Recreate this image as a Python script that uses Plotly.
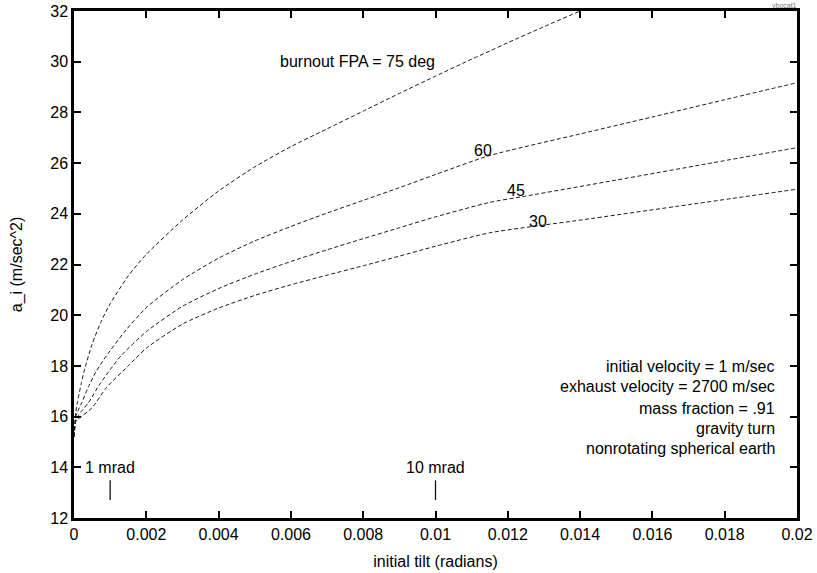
import plotly.graph_objects as go

# ---- data ----
x75 = [0, 0.00005, 0.0001, 0.0002, 0.0003, 0.0005, 0.00075, 0.001, 0.0015, 0.002,
       0.003, 0.004, 0.005, 0.006, 0.007, 0.008, 0.009, 0.010, 0.011, 0.0115,
       0.012, 0.013, 0.014, 0.015]
y75 = [15.2, 16.2, 16.6, 17.3, 17.9, 18.85, 19.75, 20.45, 21.55, 22.4,
       23.75, 24.9, 25.85, 26.65, 27.35, 28.05, 28.75, 29.43, 30.1, 30.42,
       30.75, 31.38, 32.0, 32.6]

x60 = [0, 0.00005, 0.0001, 0.0002, 0.0004, 0.0006, 0.0008, 0.001, 0.0014, 0.002,
       0.003, 0.004, 0.005, 0.006, 0.007, 0.008, 0.009, 0.010, 0.0115,
       0.014, 0.016, 0.018, 0.020]
y60 = [15.2, 16.0, 16.2, 16.5, 17.18, 17.75, 18.2, 18.6, 19.35, 20.3,
       21.4, 22.25, 22.93, 23.5, 24.03, 24.53, 25.03, 25.55, 26.3,
       27.15, 27.82, 28.5, 29.17]

x45 = [0, 0.00005, 0.0001, 0.0002, 0.0004, 0.0007, 0.001, 0.0013, 0.002,
       0.003, 0.004, 0.005, 0.006, 0.007, 0.008, 0.009, 0.010, 0.0115,
       0.0125, 0.015, 0.0175, 0.020]
y45 = [15.2, 15.9, 16.0, 16.2, 16.55, 17.25, 17.85, 18.4, 19.35,
       20.35, 21.05, 21.62, 22.12, 22.58, 23.02, 23.45, 23.88, 24.45,
       24.7, 25.33, 25.97, 26.61]

x30 = [0, 0.00005, 0.0001, 0.0002, 0.0005, 0.0009, 0.0015, 0.002,
       0.003, 0.004, 0.005, 0.006, 0.007, 0.008, 0.009, 0.010, 0.0115,
       0.014, 0.017, 0.020]
y30 = [15.2, 15.8, 15.9, 16.0, 16.35, 17.15, 18.0, 18.7,
       19.65, 20.28, 20.78, 21.2, 21.58, 21.95, 22.33, 22.72, 23.25,
       23.75, 24.36, 24.97]

series = [(x75, y75), (x60, y60), (x45, y45), (x30, y30)]

x_ticks = [0, 0.002, 0.004, 0.006, 0.008, 0.01, 0.012, 0.014, 0.016, 0.018, 0.02]
x_tick_text = ["0", "0.002", "0.004", "0.006", "0.008", "0.01", "0.012", "0.014", "0.016", "0.018", "0.02"]
y_ticks = [12, 14, 16, 18, 20, 22, 24, 26, 28, 30, 32]

curve_labels = [("burnout FPA = 75 deg", 0.00565, 30.0),
                ("60", 0.0110, 26.48),
                ("45", 0.01193, 24.92),
                ("30", 0.01253, 23.69)]

mark_labels = [("1 mrad", 0.001, 14.0), ("10 mrad", 0.01, 14.0)]
mark_x = [0.001, 0.01]
mark_y = [13.1, 13.1]

info_lines = ["initial velocity = 1 m/sec",
              "exhaust velocity = 2700 m/sec",
              "mass fraction = .91",
              "gravity turn",
              "nonrotating spherical earth"]
info_y = [17.97, 17.18, 16.33, 15.54, 14.75]
info_x = 0.01945

FONT = "Liberation Sans, Arial, Helvetica, sans-serif"
FS = 16

fig = go.Figure()
for xs, ys in series:
    fig.add_trace(go.Scatter(x=xs, y=ys, mode="lines",
                             line=dict(color="#1a1a1a", width=1, dash="4px,2.5px",
                                       shape="spline", smoothing=0.6),
                             showlegend=False, hoverinfo="skip"))

# the little "|" marks under the mrad labels
fig.add_trace(go.Scatter(x=mark_x, y=mark_y, mode="markers",
                         marker=dict(symbol="line-ns-open", size=14, color="#111111",
                                     line=dict(color="#111111", width=1.3)),
                         showlegend=False, hoverinfo="skip"))

ann = []
for txt, x, y in curve_labels:
    ann.append(dict(x=x, y=y, text=txt, xanchor="left", yanchor="middle", showarrow=False))
for txt, x, y in mark_labels:
    ann.append(dict(x=x, y=y, text=txt, xanchor="center", yanchor="middle", showarrow=False))
for txt, y in zip(info_lines, info_y):
    ann.append(dict(x=info_x, y=y, text=txt, xanchor="right", yanchor="middle", showarrow=False))
for a in ann:
    a["xref"] = "x"
    a["yref"] = "y"
    a["font"] = dict(family=FONT, size=FS, color="black")
# small tag above the top-right corner (data refs so it doesn't push margins)
ann.append(dict(x=0.02, y=32, xref="x", yref="y", text="vbocat1", showarrow=False,
                xanchor="right", yanchor="bottom", yshift=0, xshift=2,
                font=dict(family=FONT, size=7, color="#777777")))

axis_common = dict(showline=True, linecolor="black", linewidth=2.5, mirror="ticks",
                   ticks="inside", ticklen=7, tickwidth=2, tickcolor="black",
                   showgrid=False, zeroline=False,
                   tickfont=dict(family=FONT, size=FS, color="black"))

fig.update_layout(
    width=817, height=573,
    margin=dict(l=74, r=20, t=11, b=55, autoexpand=False),
    paper_bgcolor="white", plot_bgcolor="white",
    font=dict(family=FONT, size=FS, color="black"),
    annotations=ann,
    xaxis=dict(range=[0, 0.02], tickvals=x_ticks, ticktext=x_tick_text,
               title=dict(text="initial tilt (radians)", standoff=14,
                          font=dict(family=FONT, size=FS, color="black")),
               **axis_common),
    yaxis=dict(range=[12, 32], tickvals=y_ticks,
               title=dict(text="a_i (m/sec^2)", standoff=24,
                          font=dict(family=FONT, size=FS, color="black")),
               **axis_common),
)

fig.write_html("out.html")
